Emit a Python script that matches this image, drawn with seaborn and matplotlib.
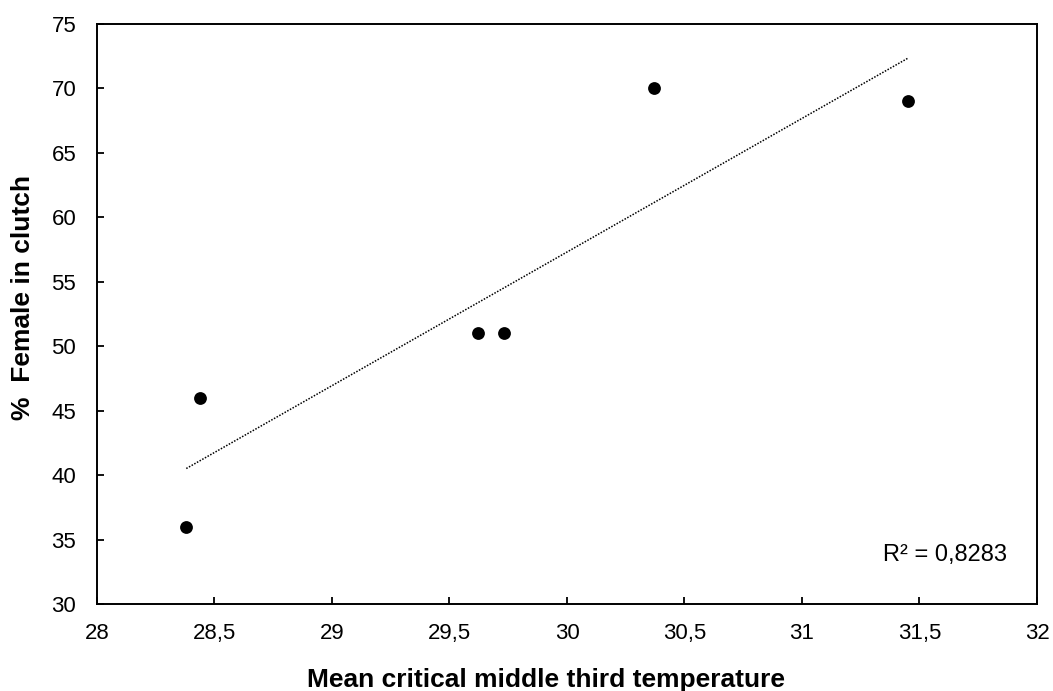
import numpy as np
import pandas as pd
import matplotlib
matplotlib.use("Agg")
import matplotlib.pyplot as plt
import seaborn as sns
from matplotlib.ticker import FuncFormatter

temperature = [28.38, 28.44, 29.62, 29.73, 30.37, 31.45]
female_pct = [36, 46, 51, 51, 70, 69]
r2_label = "R² = 0,8283"

sns.set_theme(style="white")
plt.rcParams['font.family'] = ['Liberation Sans', 'DejaVu Sans']
plt.rcParams['text.color'] = 'black'
plt.rcParams['axes.labelcolor'] = 'black'

df = pd.DataFrame({"x": temperature, "y": female_pct})

fig = plt.figure(figsize=(10.53, 6.91), dpi=100)
ax = fig.add_axes([0.0921, 0.1259, 0.8927, 0.8394])

slope, intercept = np.polyfit(df["x"], df["y"], 1)
xs = np.array([min(temperature), max(temperature)])
sns.lineplot(x=xs, y=slope * xs + intercept, ax=ax, color="black",
             linestyle=(0, (1, 1)), linewidth=1.1)
sns.scatterplot(data=df, x="x", y="y", ax=ax, color="black", s=85,
                edgecolor="black", linewidth=0, zorder=3)

ax.set_xlim(28, 32)
ax.set_ylim(30, 75)
ax.set_xticks(np.arange(28, 32.01, 0.5))
ax.set_yticks(np.arange(30, 75.1, 5))
fmt = FuncFormatter(lambda v, p: (f"{v:g}").replace(".", ","))
ax.xaxis.set_major_formatter(fmt)
ax.yaxis.set_major_formatter(fmt)

for sp in ax.spines.values():
    sp.set_color("black")
    sp.set_linewidth(1.4)

ax.tick_params(axis="both", which="major", direction="in", length=5, width=1.3,
               color="black", labelsize=16, labelcolor="black", bottom=True, left=True)
ax.tick_params(axis="x", pad=13.5)
ax.tick_params(axis="y", pad=15)

ax.set_xlabel("Mean critical middle third temperature", fontsize=19,
              fontweight="bold", color="black")
ax.set_ylabel("%  Female in clutch", fontsize=19, fontweight="bold", color="black")
ax.xaxis.label.set_va("center")
ax.yaxis.label.set_va("center")
ax.xaxis.set_label_coords(0.478, -0.131)
ax.yaxis.set_label_coords(-0.079, 0.528)

ax.text(31.872, 33.34, r2_label, fontsize=17, ha="right", va="baseline", color="black")

fig.savefig("out.png", dpi=100)
